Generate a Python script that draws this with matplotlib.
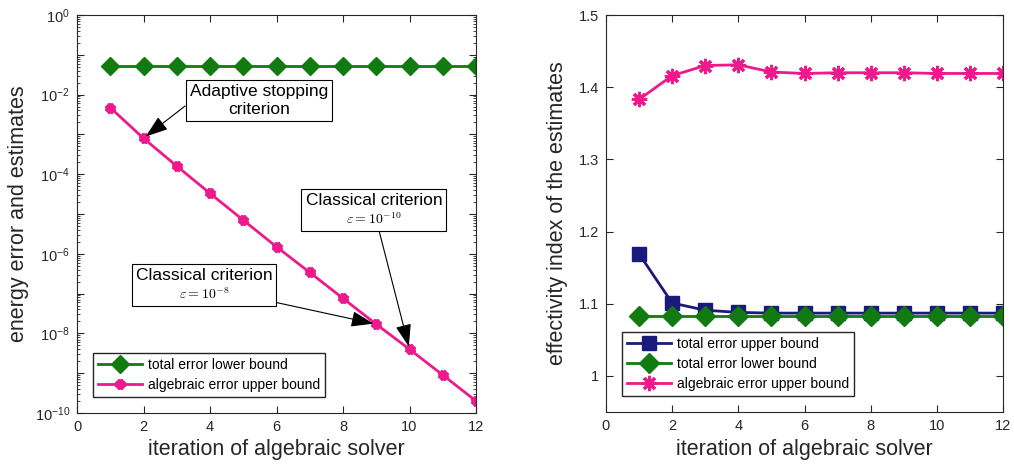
import matplotlib
matplotlib.use('Agg')
import matplotlib.pyplot as plt
import numpy as np
from matplotlib.offsetbox import TextArea, VPacker, AnnotationBbox

plt.rcParams['font.family'] = ['Liberation Sans', 'DejaVu Sans']
plt.rcParams['mathtext.fontset'] = 'cm'

# datos
iters = np.arange(1, 13)
lower_bound = [0.053] * 12
alg_upper = [4.7e-3, 8e-4, 1.6e-4, 3.3e-5, 7e-6, 1.5e-6, 3.4e-7, 7.6e-8,
             1.7e-8, 4e-9, 9e-10, 2e-10]

eff_total_upper = [1.169, 1.101, 1.091, 1.088, 1.087, 1.087, 1.087, 1.087,
                   1.087, 1.087, 1.087, 1.087]
eff_total_lower = [1.083] * 12
eff_alg_upper = [1.383, 1.416, 1.430, 1.431, 1.421, 1.419, 1.420, 1.420,
                 1.420, 1.419, 1.419, 1.419]

verde = '#117a11'
rosa = '#ee1a8c'
azul = '#1a1a7a'
gris = '#262626'
asterisco = (8, 2, 0)

fig = plt.figure(figsize=(10.14, 4.70), dpi=100)
ax1 = fig.add_axes([77/1014, 57/470, 399/1014, 398/470])
ax2 = fig.add_axes([606/1014, 58/470, 397/1014, 397/470])


def estilo(ax):
    for s in ax.spines.values():
        s.set_color(gris)
        s.set_linewidth(0.8)
    ax.tick_params(which='both', direction='in', top=True, right=True,
                   colors=gris, labelsize=10.5, pad=5)
    ax.tick_params(which='major', length=5)
    ax.tick_params(which='minor', length=2.5)
    ax.set_xlim(0, 12)
    ax.set_xticks(range(0, 13, 2))
    ax.set_xlabel('iteration of algebraic solver', fontsize=15.5, color=gris, labelpad=4)


def leyenda(ax):
    ax.legend(loc='lower left', bbox_to_anchor=(0.04, 0.04), borderaxespad=0,
              fontsize=10, handlelength=3.2, fancybox=False, edgecolor=gris,
              framealpha=1, borderpad=0.35, labelspacing=0.45, handletextpad=0.4)


# 1. Error y estimadores (escala log)
ax1.plot(iters, lower_bound, color=verde, lw=2, marker='D', ms=9,
         label='total error lower bound')
ax1.plot(iters, alg_upper, color=rosa, lw=2, marker=asterisco, ms=7, mew=3.5,
         label='algebraic error upper bound')
ax1.set_yscale('log')
ax1.set_ylim(1e-10, 1)
estilo(ax1)
ax1.set_yticks([10.0**k for k in range(0, -11, -1)])
ax1.set_yticklabels([r'$\mathregular{10^{%d}}$' % k if k % 2 == 0 else ''
                     for k in range(0, -11, -1)])
ax1.yaxis.set_minor_locator(matplotlib.ticker.LogLocator(base=10, subs=np.arange(2, 10), numticks=20))
ax1.yaxis.set_minor_formatter(matplotlib.ticker.NullFormatter())
ax1.set_ylabel('energy error and estimates', fontsize=15.5, color=gris, labelpad=4)
leyenda(ax1)

flecha = dict(arrowstyle='-|>,head_length=1.0,head_width=0.35', color='black',
              lw=0.8, shrinkA=0, shrinkB=2)


def caja(ax, lineas, tamanos, xy, xybox, relpos):
    hijos = [TextArea(t, textprops=dict(size=s, color='black'))
             for t, s in zip(lineas, tamanos)]
    box = VPacker(children=hijos, align='center', pad=0, sep=2)
    fl = dict(flecha)
    fl['relpos'] = relpos
    ab = AnnotationBbox(box, xy, xybox=xybox, xycoords='data', boxcoords='data',
                        pad=0.3, arrowprops=fl,
                        bboxprops=dict(edgecolor='black', lw=0.8, facecolor='white'))
    ax.add_artist(ab)


caja(ax1, ['Adaptive stopping', 'criterion'], [12.5, 12.5], (2, alg_upper[1]),
     (5.47, 7e-3), (0.0, 0.45))
caja(ax1, ['Classical criterion', r'$\varepsilon = 10^{-10}$'], [12.5, 10],
     (10, alg_upper[9]), (8.93, 1.26e-5), (0.53, 0.0))
caja(ax1, ['Classical criterion', r'$\varepsilon = 10^{-8}$'], [12.5, 10],
     (9, alg_upper[8]), (3.82, 1.65e-7), (1.0, 0.0))

# 2. Indice de efectividad
ax2.plot(iters, eff_total_upper, color=azul, lw=2, marker='s', ms=10,
         label='total error upper bound')
ax2.plot(iters, eff_total_lower, color=verde, lw=2, marker='D', ms=10,
         label='total error lower bound')
ax2.plot(iters, eff_alg_upper, color=rosa, lw=2, marker=asterisco, ms=11, mew=2.2,
         label='algebraic error upper bound')
ax2.set_ylim(0.95, 1.5)
estilo(ax2)
ax2.set_yticks([1, 1.1, 1.2, 1.3, 1.4, 1.5])
ax2.set_yticklabels(['1', '1.1', '1.2', '1.3', '1.4', '1.5'])
ax2.set_ylabel('effectivity index of the estimates', fontsize=15.5, color=gris, labelpad=8)
leyenda(ax2)

fig.savefig('out.png', dpi=100)
